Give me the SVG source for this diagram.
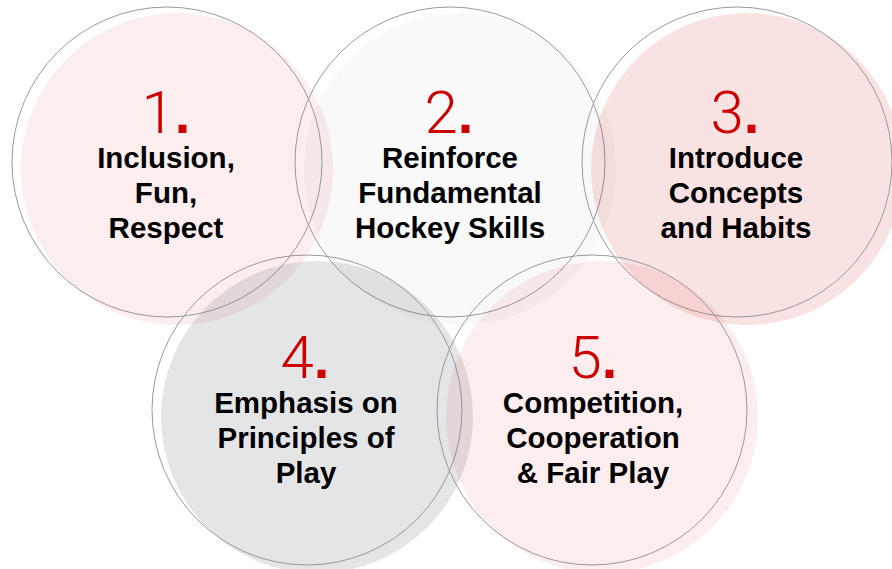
<svg xmlns="http://www.w3.org/2000/svg" width="892" height="569" viewBox="0 0 892 569">
<style>
.ring{fill:none;stroke:#9a9a9a;stroke-width:1}
.num{font-family:"Roboto","Liberation Sans",sans-serif;font-weight:300;font-size:60px;fill:#cc0000;text-anchor:middle}
.dot{font-family:"Liberation Sans",sans-serif;font-weight:bold;font-size:56px}
.lbl{font-family:"Liberation Sans","Arial",sans-serif;font-weight:bold;font-size:29.5px;fill:#000;text-anchor:middle}
.f1{fill:rgb(204,0,0);fill-opacity:0.065}
.f2{fill:#000;fill-opacity:0.025}
.f3{fill:rgb(204,0,0);fill-opacity:0.115}
.f4{fill:rgb(88,95,105);fill-opacity:0.16}
.f5{fill:rgb(204,0,0);fill-opacity:0.065}
</style>
<rect width="892" height="569" fill="#ffffff"/>
<g id="node1">
<circle class="f1" cx="177" cy="169" r="156"/>
<circle class="ring" cx="167" cy="162" r="155"/>
<text class="num" x="166" y="133">1<tspan class="dot">.</tspan></text>
<text class="lbl" x="166" y="168">Inclusion,</text>
<text class="lbl" x="166" y="203">Fun,</text>
<text class="lbl" x="166" y="238">Respect</text>
</g>
<g id="node2">
<circle class="f2" cx="460" cy="169" r="156"/>
<circle class="ring" cx="450" cy="162" r="155"/>
<text class="num" x="449" y="133">2<tspan class="dot">.</tspan></text>
<text class="lbl" x="450" y="168">Reinforce</text>
<text class="lbl" x="450" y="203">Fundamental</text>
<text class="lbl" x="450" y="238">Hockey Skills</text>
</g>
<g id="node3">
<circle class="f3" cx="747" cy="169" r="156"/>
<circle class="ring" cx="737" cy="162" r="155"/>
<text class="num" x="735" y="133">3<tspan class="dot">.</tspan></text>
<text class="lbl" x="736" y="168">Introduce</text>
<text class="lbl" x="736" y="203">Concepts</text>
<text class="lbl" x="736" y="238">and Habits</text>
</g>
<g id="node4">
<circle class="f4" cx="317" cy="417" r="156"/>
<circle class="ring" cx="307" cy="410" r="155"/>
<text class="num" x="305" y="378">4<tspan class="dot">.</tspan></text>
<text class="lbl" x="306" y="413">Emphasis on</text>
<text class="lbl" x="306" y="448">Principles of</text>
<text class="lbl" x="306" y="483">Play</text>
</g>
<g id="node5">
<circle class="f5" cx="602" cy="417" r="156"/>
<circle class="ring" cx="592" cy="410" r="155"/>
<text class="num" x="593" y="378">5<tspan class="dot">.</tspan></text>
<text class="lbl" x="593" y="413">Competition,</text>
<text class="lbl" x="593" y="448">Cooperation</text>
<text class="lbl" x="593" y="483">&amp; Fair Play</text>
</g>
<g id="connectors"></g>
</svg>
